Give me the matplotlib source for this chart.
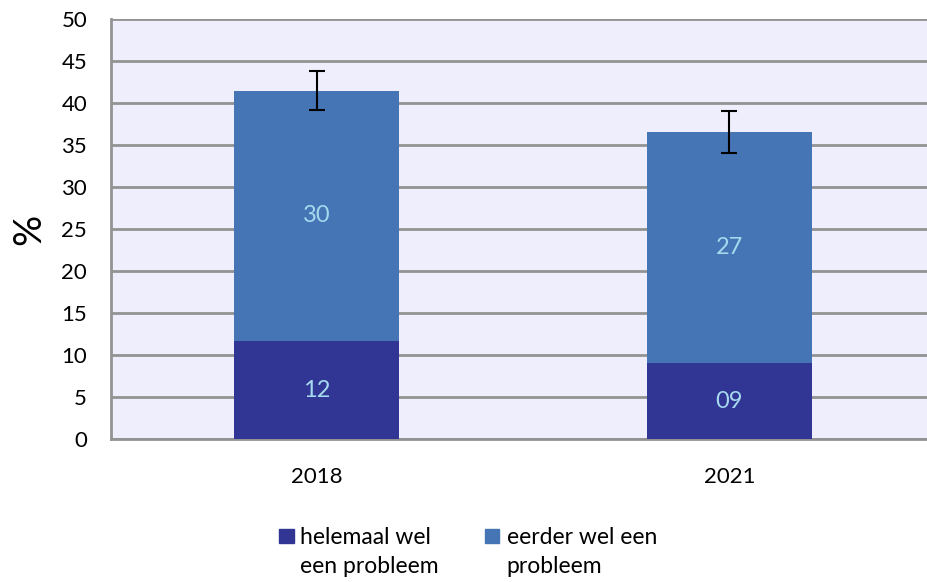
import numpy as np
import matplotlib
matplotlib.use("Agg")
import matplotlib.pyplot as plt
from matplotlib.patches import Rectangle

plt.rcParams['font.family'] = ['Lato', 'DejaVu Sans']

# data
jaren = ['2018', '2021']
helemaal = [11.7, 9.1]          # helemaal wel een probleem
eerder = [29.8, 27.5]           # eerder wel een probleem
labels_helemaal = ['12', '09']
labels_eerder = ['30', '27']
fout = [2.3, 2.5]               # foutmarge op totaal
reeksen = [['helemaal wel', 'een probleem'], ['eerder wel een', 'probleem']]

kleur_donker = '#313695'
kleur_licht = '#4575b4'

W, H = 927, 582
fig = plt.figure(figsize=(W / 100, H / 100), dpi=100)
ax = fig.add_axes([0.1194, 0.2452, 0.89, 0.7216])
ax.set_facecolor('#eeeefc')

x = np.arange(len(jaren))
ax.bar(x, helemaal, width=0.4, color=kleur_donker, zorder=3)
totaal = np.array(helemaal) + np.array(eerder)
ax.bar(x, eerder, width=0.4, bottom=helemaal, color=kleur_licht, zorder=3)
ax.errorbar(x, totaal, yerr=fout, fmt='none', ecolor='black', elinewidth=1.5,
            capsize=6, capthick=1.5, zorder=4)

for i in range(len(jaren)):
    ax.text(x[i], helemaal[i] / 2, labels_helemaal[i], ha='center', va='center',
            color='#a6d9ee', fontsize=17, zorder=5)
    ax.text(x[i], helemaal[i] + eerder[i] / 2, labels_eerder[i], ha='center', va='center',
            color='#a6d9ee', fontsize=17, zorder=5)

ax.set_xlim(-0.5, 1.5)
ax.set_ylim(0, 50)
ax.set_yticks(range(0, 51, 5))
ax.set_xticks(x)
ax.set_xticklabels(jaren)
ax.tick_params(axis='both', length=0, labelsize=16, colors='black')
ax.tick_params(axis='x', pad=20)
ax.tick_params(axis='y', pad=17)
ax.yaxis.grid(True, color='#939393', linewidth=2, zorder=1)
for s in ['top', 'right']:
    ax.spines[s].set_visible(False)
for s in ['left', 'bottom']:
    ax.spines[s].set_color('#939393')
    ax.spines[s].set_linewidth(2)

ax.set_ylabel('%', fontsize=28, labelpad=10)

# legenda onderaan (handmatig, vierkantje bij eerste regel)
leg_x = [279, 485]
for kleur, lx, regels in zip([kleur_donker, kleur_licht], leg_x, reeksen):
    fig.add_artist(Rectangle((lx / W, 1 - 543 / H), 14.5 / W, 14.5 / H,
                             transform=fig.transFigure, color=kleur))
    fig.text((lx + 21.5) / W, 1 - 544 / H, regels[0], fontsize=16.5, va='baseline')
    fig.text((lx + 21.5) / W, 1 - 573 / H, regels[1], fontsize=16.5, va='baseline')

fig.savefig('out.png', dpi=100)
